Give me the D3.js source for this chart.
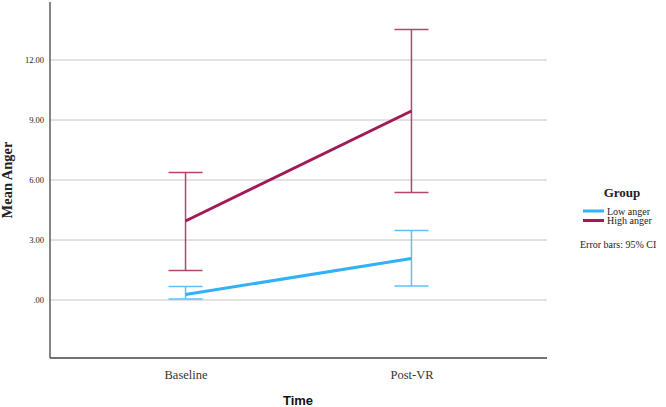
<!DOCTYPE html>
<html>
<head>
<meta charset="utf-8">
<script src="https://cdn.jsdelivr.net/npm/d3@7"></script>
<style>
  body { margin: 0; background: #fff; }
  svg { display: block; }
</style>
</head>
<body>
<svg id="chart"></svg>
<script>
const times = ["Baseline", "Post-VR"];
const groups = ["Low anger", "High anger"];
const lowMean = [0.27, 2.08];
const lowLower = [0.05, 0.70];
const lowUpper = [0.68, 3.47];
const highMean = [3.95, 9.45];
const highLower = [1.47, 5.38];
const highUpper = [6.38, 13.53];
const yTicks = [0, 3, 6, 9, 12];

const width = 666, height = 407;
const colors = { "Low anger": "#33b1f6", "High anger": "#a11a56" };
const barColors = { "Low anger": "#5cc0f7", "High anger": "#b5446f" };

const series = [
  { name: "Low anger", mean: lowMean, lo: lowLower, hi: lowUpper },
  { name: "High anger", mean: highMean, lo: highLower, hi: highUpper }
];

const svg = d3.select("#chart")
  .attr("width", width)
  .attr("height", height);

const x = d3.scalePoint()
  .domain(times)
  .range([50, 547])
  .padding(0.6);

const y = d3.scaleLinear()
  .domain([-2.9, 15])
  .range([358, 0]);

// gridlines
svg.append("g")
  .selectAll("line")
  .data(yTicks)
  .join("line")
  .attr("x1", 50)
  .attr("x2", 547)
  .attr("y1", d => y(d))
  .attr("y2", d => y(d))
  .attr("stroke", "#c4c4c4")
  .attr("stroke-width", 1);

// axes
svg.append("g")
  .attr("transform", "translate(50,0)")
  .call(d3.axisLeft(y).tickValues(yTicks).tickSize(0).tickPadding(6)
    .tickFormat(d => d === 0 ? ".00" : d3.format(".2f")(d)))
  .call(g => g.select(".domain").remove())
  .selectAll("text")
  .attr("font-family", "'Liberation Serif', serif")
  .attr("font-size", 8.5)
  .attr("fill", "#222");

svg.append("line")
  .attr("x1", 50).attr("x2", 50)
  .attr("y1", 2).attr("y2", 358)
  .attr("stroke", "#444").attr("stroke-width", 1.3);

svg.append("line")
  .attr("x1", 50).attr("x2", 547)
  .attr("y1", 358).attr("y2", 358)
  .attr("stroke", "#444").attr("stroke-width", 1.3);

svg.append("g")
  .attr("transform", "translate(0,358)")
  .call(d3.axisBottom(x).tickSize(0).tickPadding(12))
  .call(g => g.select(".domain").remove())
  .selectAll("text")
  .attr("font-family", "'Liberation Serif', serif")
  .attr("font-size", 12.5)
  .attr("fill", "#333");

// axis titles
svg.append("text")
  .attr("transform", "translate(12,180) rotate(-90)")
  .attr("text-anchor", "middle")
  .attr("font-family", "'Liberation Serif', serif")
  .attr("font-weight", "bold")
  .attr("font-size", 14.5)
  .attr("fill", "#222")
  .text("Mean Anger");

svg.append("text")
  .attr("x", 298)
  .attr("y", 405)
  .attr("text-anchor", "middle")
  .attr("font-family", "'Liberation Sans', Arial, sans-serif")
  .attr("font-weight", "bold")
  .attr("font-size", 13)
  .attr("fill", "#111")
  .text("Time");

// error bars
const cap = 17;
series.forEach(s => {
  const g = svg.append("g")
    .attr("stroke", barColors[s.name])
    .attr("stroke-width", 1.5)
    .attr("fill", "none");
  times.forEach((t, i) => {
    const cx = x(t);
    g.append("line").attr("x1", cx).attr("x2", cx)
      .attr("y1", y(s.lo[i])).attr("y2", y(s.hi[i]));
    g.append("line").attr("x1", cx - cap).attr("x2", cx + cap)
      .attr("y1", y(s.lo[i])).attr("y2", y(s.lo[i]));
    g.append("line").attr("x1", cx - cap).attr("x2", cx + cap)
      .attr("y1", y(s.hi[i])).attr("y2", y(s.hi[i]));
  });
});

// mean lines
const line = d3.line()
  .x((d, i) => x(times[i]))
  .y(d => y(d));

series.forEach(s => {
  svg.append("path")
    .datum(s.mean)
    .attr("d", line)
    .attr("fill", "none")
    .attr("stroke", colors[s.name])
    .attr("stroke-width", 3);
});

// legend
const legend = svg.append("g");
legend.append("text")
  .attr("x", 622).attr("y", 197)
  .attr("text-anchor", "middle")
  .attr("font-family", "'Liberation Serif', serif")
  .attr("font-weight", "bold")
  .attr("font-size", 13)
  .attr("fill", "#222")
  .text("Group");

groups.forEach((gname, i) => {
  const ly = 211 + i * 9.5;
  legend.append("line")
    .attr("x1", 583).attr("x2", 604)
    .attr("y1", ly).attr("y2", ly)
    .attr("stroke", colors[gname]).attr("stroke-width", 3);
  legend.append("text")
    .attr("x", 607).attr("y", ly + 3.5)
    .attr("font-family", "'Liberation Serif', serif")
    .attr("font-size", 10)
    .attr("fill", "#222")
    .text(gname);
});

legend.append("text")
  .attr("x", 580).attr("y", 248)
  .attr("font-family", "'Liberation Serif', serif")
  .attr("font-size", 10)
  .attr("fill", "#222")
  .text("Error bars: 95% CI");
</script>
</body>
</html>
